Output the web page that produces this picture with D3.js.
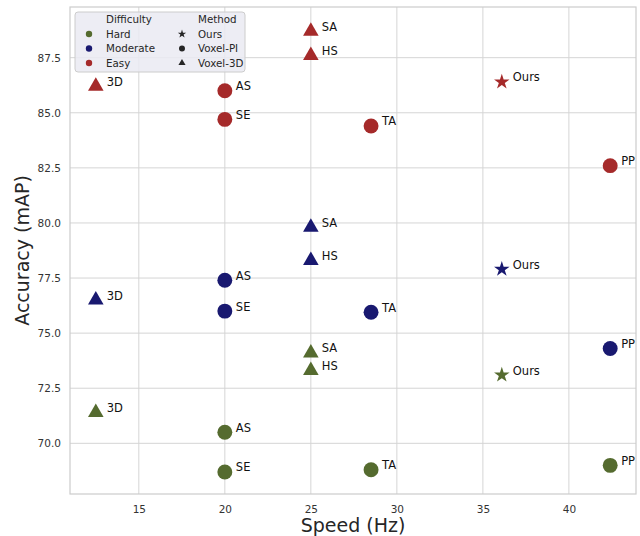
<!DOCTYPE html>
<html>
<head>
<meta charset="utf-8">
<script src="https://cdn.jsdelivr.net/npm/d3@7"></script>
<style>
  body { margin: 0; background: #fff; }
  text { font-family: "DejaVu Sans", sans-serif; }
</style>
</head>
<body>
<div id="chart"></div>
<script>
// data
var methods = ["3D", "SA", "HS", "AS", "SE", "TA", "Ours", "PP"];
var kinds = ["Voxel-3D", "Voxel-3D", "Voxel-3D", "Voxel-PI", "Voxel-PI", "Voxel-PI", "Ours", "Voxel-PI"];
var speeds = [12.5, 25, 25, 20, 20, 28.5, 36.1, 42.4];
var easyAcc = [86.2, 88.7, 87.6, 86.0, 84.7, 84.4, 86.4, 82.6];
var moderateAcc = [76.5, 79.8, 78.3, 77.4, 76.0, 75.95, 77.9, 74.3];
var hardAcc = [71.4, 74.1, 73.3, 70.5, 68.7, 68.8, 73.1, 69.0];
var xTicks = [15, 20, 25, 30, 35, 40];
var yTicks = [70, 72.5, 75, 77.5, 80, 82.5, 85, 87.5];

var difficulties = [
  { name: "Hard", color: "#556b2f", acc: hardAcc },
  { name: "Moderate", color: "#191970", acc: moderateAcc },
  { name: "Easy", color: "#a52a2a", acc: easyAcc }
];
var markerTypes = { "Ours": d3.symbolStar, "Voxel-PI": d3.symbolCircle, "Voxel-3D": d3.symbolTriangle };
var markerSizes = { "Ours": 75, "Voxel-PI": 175, "Voxel-3D": 105 };

var width = 640, height = 536;
var margin = { left: 70, right: 4, top: 7, bottom: 42 };

var svg = d3.select("#chart").append("svg")
  .attr("width", width)
  .attr("height", height);

var x = d3.scaleLinear().domain([11, 43.9]).range([margin.left, width - margin.right]);
var y = d3.scaleLinear().domain([67.7, 89.8]).range([height - margin.bottom, margin.top]);

// grid
svg.append("g").selectAll("line.gx").data(xTicks).enter().append("line")
  .attr("x1", function(d) { return x(d); }).attr("x2", function(d) { return x(d); })
  .attr("y1", margin.top).attr("y2", height - margin.bottom)
  .attr("stroke", "#d5d5d5").attr("stroke-width", 1);
svg.append("g").selectAll("line.gy").data(yTicks).enter().append("line")
  .attr("y1", function(d) { return y(d); }).attr("y2", function(d) { return y(d); })
  .attr("x1", margin.left).attr("x2", width - margin.right)
  .attr("stroke", "#d5d5d5").attr("stroke-width", 1);

// frame
svg.append("rect")
  .attr("x", margin.left).attr("y", margin.top)
  .attr("width", width - margin.left - margin.right)
  .attr("height", height - margin.top - margin.bottom)
  .attr("fill", "none").attr("stroke", "#cccccc").attr("stroke-width", 1.2);

// tick labels
var xAxis = d3.axisBottom(x).tickValues(xTicks).tickSize(0).tickPadding(12);
var gx = svg.append("g").attr("transform", "translate(0," + (height - margin.bottom) + ")").call(xAxis);
var yAxis = d3.axisLeft(y).tickValues(yTicks).tickSize(0).tickPadding(9).tickFormat(d3.format(".1f"));
var gy = svg.append("g").attr("transform", "translate(" + margin.left + ",0)").call(yAxis);
[gx, gy].forEach(function(g) {
  g.select(".domain").remove();
  g.selectAll("text").attr("font-size", 10.5).attr("fill", "#333").attr("font-family", "DejaVu Sans");
});

svg.append("text")
  .attr("x", (margin.left + width - margin.right) / 2).attr("y", 532)
  .attr("text-anchor", "middle").attr("font-size", 19).attr("fill", "#262626")
  .text("Speed (Hz)");
svg.append("text")
  .attr("transform", "translate(29," + ((margin.top + height - margin.bottom) / 2) + ") rotate(-90)")
  .attr("text-anchor", "middle").attr("font-size", 19).attr("fill", "#262626")
  .text("Accuracy (mAP)");

// points and labels
var points = [];
difficulties.forEach(function(diff) {
  methods.forEach(function(m, i) {
    points.push({ label: m, kind: kinds[i], x: speeds[i], y: diff.acc[i], color: diff.color });
  });
});

var marks = svg.append("g");
marks.selectAll("path").data(points).enter().append("path")
  .attr("transform", function(d) { return "translate(" + x(d.x) + "," + y(d.y) + ")"; })
  .attr("d", function(d) { return d3.symbol().type(markerTypes[d.kind]).size(markerSizes[d.kind])(); })
  .attr("fill", function(d) { return d.color; });
marks.selectAll("text").data(points).enter().append("text")
  .attr("x", function(d) { return x(d.x) + 11; })
  .attr("y", function(d) { return y(d.y) - 0.5; })
  .attr("font-size", 11.5).attr("fill", "#111")
  .text(function(d) { return d.label; });

// legend
var lg = svg.append("g").attr("transform", "translate(75,12)");
lg.append("rect")
  .attr("width", 170).attr("height", 60).attr("rx", 3)
  .attr("fill", "#eaeaf2").attr("fill-opacity", 0.85)
  .attr("stroke", "#cccccc").attr("stroke-width", 1);
lg.append("text").attr("x", 31).attr("y", 11).attr("font-size", 10.3).attr("fill", "#262626").text("Difficulty");
lg.append("text").attr("x", 123).attr("y", 11).attr("font-size", 10.3).attr("fill", "#262626").text("Method");
difficulties.forEach(function(diff, i) {
  var yy = 22 + i * 14.5;
  lg.append("circle").attr("cx", 14).attr("cy", yy).attr("r", 3.2).attr("fill", diff.color);
  lg.append("text").attr("x", 31).attr("y", yy + 3.5).attr("font-size", 10.3).attr("fill", "#262626").text(diff.name);
});
["Ours", "Voxel-PI", "Voxel-3D"].forEach(function(k, i) {
  var yy = 22 + i * 14.5;
  var s = { "Ours": 22, "Voxel-PI": 28, "Voxel-3D": 22 }[k];
  lg.append("path").attr("transform", "translate(107," + yy + ")")
    .attr("d", d3.symbol().type(markerTypes[k]).size(s)()).attr("fill", "#262626");
  lg.append("text").attr("x", 123).attr("y", yy + 3.5).attr("font-size", 10.3).attr("fill", "#262626").text(k);
});
</script>
</body>
</html>
